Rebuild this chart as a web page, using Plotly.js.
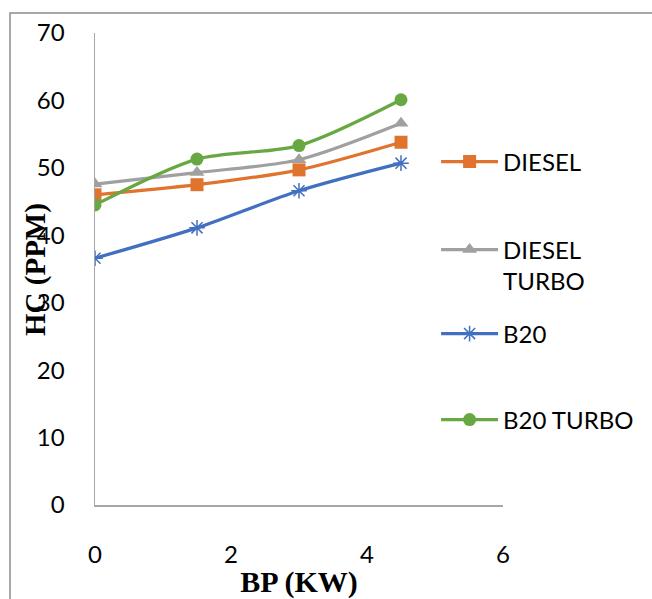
<!DOCTYPE html>
<html>
<head>
<meta charset="utf-8">
<script src="https://cdn.plot.ly/plotly-3.0.1.min.js"></script>
<style>html,body{margin:0;padding:0;background:#fff;}#chart{width:652px;height:599px;}</style>
</head>
<body>
<div id="chart"></div>
<script>
// Data
const bp = [0, 1.5, 3, 4.5];
const diesel = [46.0, 47.5, 49.7, 53.8];
const dieselTurbo = [47.6, 49.3, 51.2, 56.6];
const b20 = [36.6, 41.1, 46.6, 50.7];
const b20Turbo = [44.5, 51.3, 53.3, 60.1];
const seriesNames = ['DIESEL', 'DIESEL<br>TURBO', 'B20', 'B20 TURBO'];
const xTickVals = [0, 2, 4, 6];
const yTickVals = [0, 10, 20, 30, 40, 50, 60, 70];

const colors = ['#E0732E', '#A0A0A0', '#4270C0', '#68A843'];
const symbols = ['square', 'triangle-up', 'asterisk-open', 'circle'];
const values = [diesel, dieselTurbo, b20, b20Turbo];
const legends = ['legend', 'legend2', 'legend3', 'legend4'];

const traces = values.map((v, i) => ({
  x: bp, y: v, name: seriesNames[i], type: 'scatter', mode: 'lines+markers',
  legend: legends[i],
  line: {color: colors[i], width: 3.2, shape: 'spline', smoothing: 0.8},
  marker: {symbol: symbols[i], size: 13, color: colors[i], line: {color: colors[i], width: symbols[i] === 'asterisk-open' ? 1.5 : 0}}
}));

const sans = 'Lato, "Liberation Sans", sans-serif';
const legFont = {family: sans, size: 24, color: '#000'};
function leg(y, valign) {
  return {x: 0.836, xanchor: 'left', y: y, yanchor: 'middle', font: legFont, itemwidth: 57,
          bgcolor: 'rgba(0,0,0,0)', borderwidth: 0, valign: valign || 'middle'};
}

const layout = {
  width: 652, height: 599,
  margin: {l: 95, r: 149, t: 33, b: 94},
  paper_bgcolor: '#fff', plot_bgcolor: '#fff',
  showlegend: true,
  legend: leg(0.7267),
  legend2: leg(0.5074, 'top'),
  legend3: leg(0.3623),
  legend4: leg(0.1801),
  xaxis: {
    range: [0, 6], tickvals: xTickVals, showgrid: false, zeroline: false,
    showline: true, linecolor: '#A6A6A6', linewidth: 1.5, ticks: '',
    tickfont: {family: sans, size: 24, color: '#000'},
    ticklabelstandoff: 28,
    title: {text: 'BP (KW)', font: {family: '"Liberation Serif", "Times New Roman", serif', size: 30, color: '#000', weight: 'bold'}, standoff: 4}
  },
  yaxis: {
    range: [0, 70], tickvals: yTickVals, showgrid: false, zeroline: false,
    showline: true, linecolor: '#A6A6A6', linewidth: 1.5, ticks: '',
    tickfont: {family: sans, size: 24, color: '#000'},
    ticklabelstandoff: 24
  },
  annotations: [{
    text: '<b>HC (PPM)</b>', textangle: -90, xref: 'paper', yref: 'paper',
    x: -0.1471, y: 0.5, xanchor: 'center', yanchor: 'middle', showarrow: false,
    font: {family: '"Liberation Serif", "Times New Roman", serif', size: 29, color: '#000'}
  }],
  shapes: [{
    type: 'rect', xref: 'paper', yref: 'paper',
    x0: -0.2083, x1: 1.45, y0: -0.25, y1: 1.0424,
    line: {color: '#8C8C8C', width: 1.5}, fillcolor: 'rgba(0,0,0,0)', layer: 'below'
  }]
};

Plotly.newPlot('chart', traces, layout, {displayModeBar: false, staticPlot: true});
</script>
</body>
</html>
